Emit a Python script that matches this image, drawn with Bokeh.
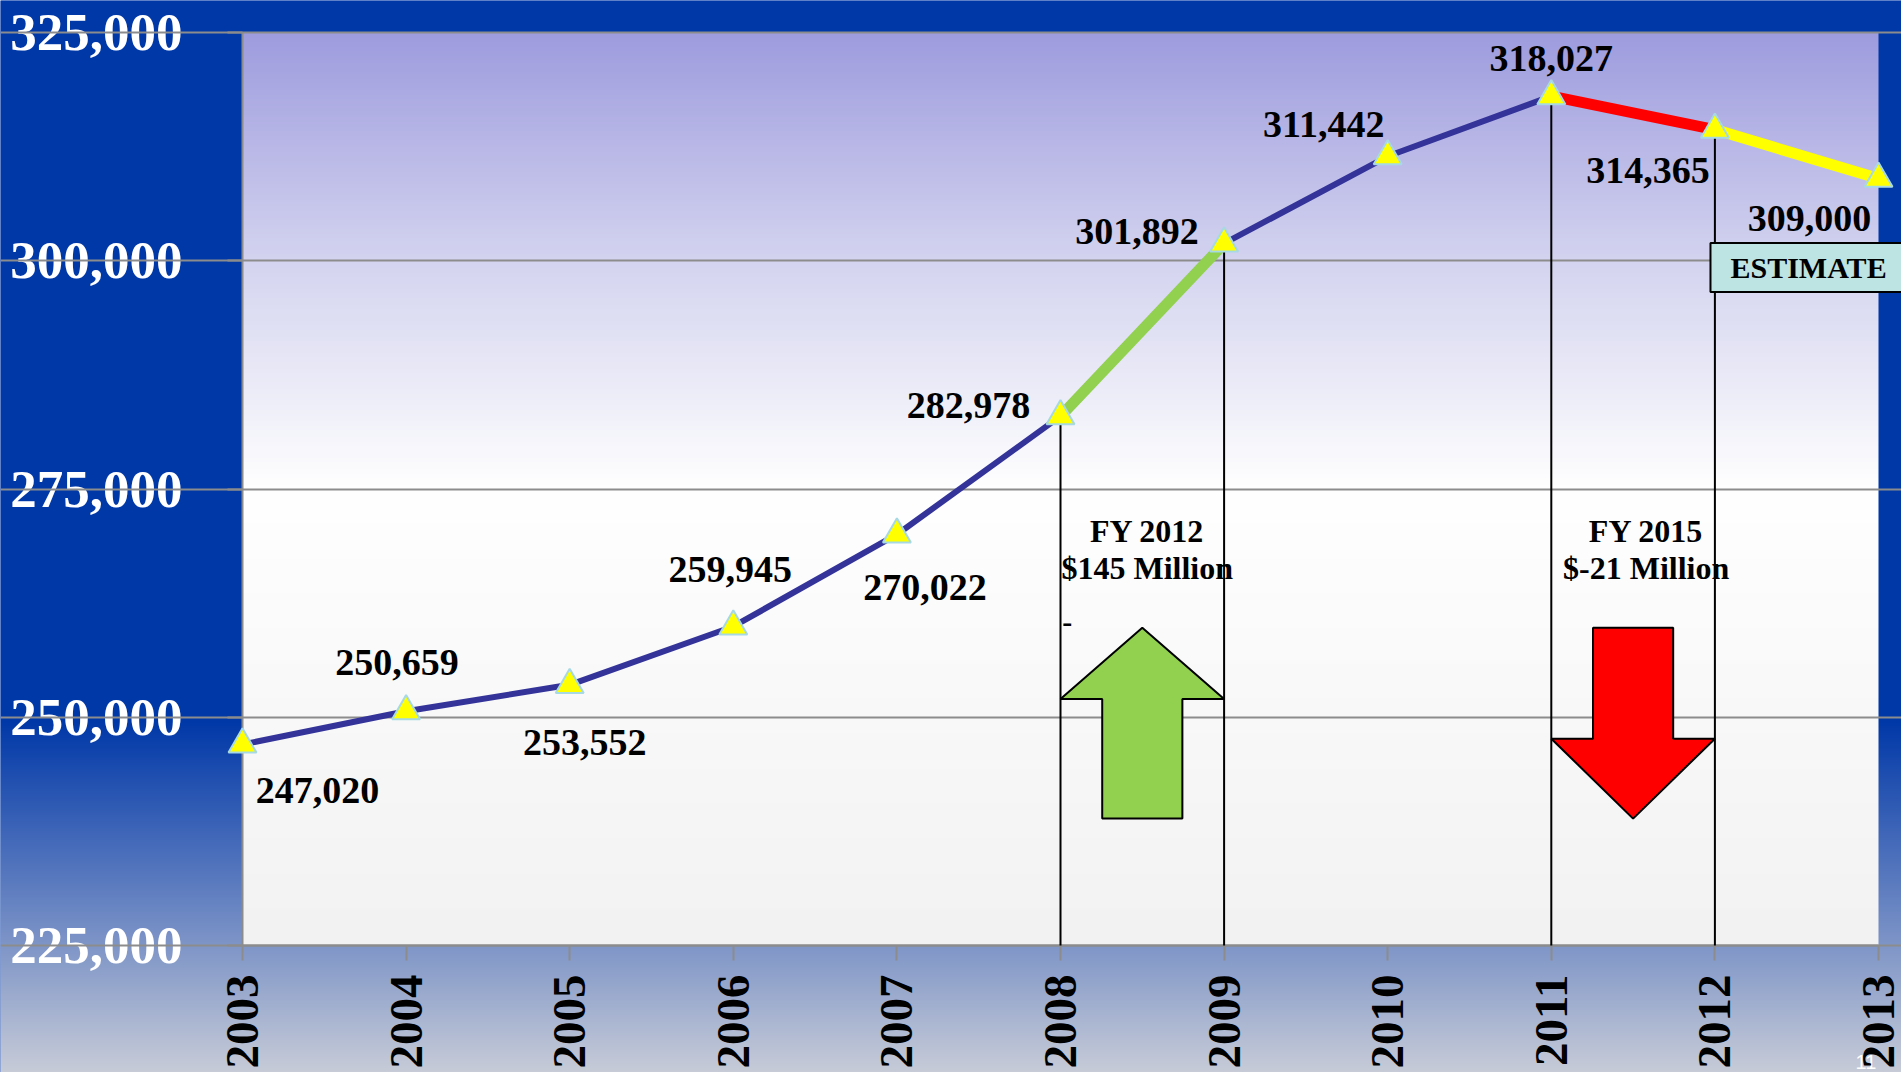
import numpy as np
from math import pi
from bokeh.plotting import figure
from bokeh.models import (ColumnDataSource, FixedTicker, NumeralTickFormatter,
                          Label, Range1d)
from bokeh.core.properties import value
from bokeh.embed import file_html
from bokeh.resources import INLINE

# ---------------- data ----------------
years = [2003, 2004, 2005, 2006, 2007, 2008, 2009, 2010, 2011, 2012, 2013]
enrollment = [247020, 250659, 253552, 259945, 270022, 282978,
              301892, 311442, 318027, 314365, 309000]
y_ticks = [225000, 250000, 275000, 300000, 325000]
x_ticks = years
navy_runs = [(2003, 2008), (2009, 2011)]
highlight_start = [2008, 2011, 2012]
highlight_colors = ["#92d050", "#ff0000", "#ffff00"]
budget_lines = [2008, 2009, 2011, 2012]
callout_titles = ["FY 2012", "FY 2015"]
callout_amounts = ["$145 Million", "$-21 Million"]
estimate_text = "ESTIMATE"
slide_number = "11"

# ---------------- styles / placements ----------------
label_dx = [75, -9, 15, -3, 28, -92, -87, -64, 0, -67, -69]
label_dy = [46, -49, 58, -57, 53, -11, -12, -32, -38, 41, 40]
SERIF = "Liberation Serif"
NAVY = "#333399"

W, H = 1901, 1072
Y0, Y1 = 225000, 325000
X0, X1 = 2003, 2013
PLOT_L, PLOT_R, PLOT_T, PLOT_B = 242, 1878, 32, 945
PX_X = (PLOT_R - PLOT_L) / (X1 - X0)
PX_Y = (PLOT_B - PLOT_T) / (Y1 - Y0)
xr0 = X0 - PLOT_L / PX_X
xr1 = xr0 + W / PX_X
yr1 = Y1 + PLOT_T / PX_Y
yr0 = yr1 - H / PX_Y

p = figure(width=W, height=H,
           x_range=Range1d(xr0, xr1), y_range=Range1d(yr0, yr1),
           output_backend="svg", toolbar_location=None,
           min_border=0, min_border_left=0, min_border_right=0,
           min_border_top=0, min_border_bottom=0)
p.border_fill_color = "#0038a8"
p.background_fill_color = "#0038a8"
p.outline_line_color = None

# page background: dark blue, fading to grey-blue near the bottom
def page_color(yp):
    stops_y = [720, 880, 1072]
    stops = np.array([[0, 56, 168], [90, 122, 191], [200, 204, 216]])
    return [np.interp(yp, stops_y, stops[:, k]) for k in range(3)]

bg = np.empty((H, 1), dtype=np.uint32)
bgv = bg.view(dtype=np.uint8).reshape((H, 1, 4))
rows_y = H - 0.5 - np.arange(H)
cols = page_color(rows_y)
for k in range(3):
    bgv[:, 0, k] = np.clip(cols[k], 0, 255).astype(np.uint8)
bgv[:, 0, 3] = 255
p.image_rgba(image=[bg], x=xr0, y=yr0, dw=xr1 - xr0, dh=yr1 - yr0, level="image")

# plot-area gradient (lavender top -> white middle -> light grey bottom)
n = 400
ys = np.linspace(Y0, Y1, n)
stop_v = [225000, 275000, 300000, 325000]
stop_c = np.array([[242, 242, 242], [255, 255, 255], [212, 212, 240], [158, 156, 222]])
img = np.empty((n, 1), dtype=np.uint32)
view = img.view(dtype=np.uint8).reshape((n, 1, 4))
for k in range(3):
    view[:, 0, k] = np.interp(ys, stop_v, stop_c[:, k]).astype(np.uint8)
view[:, 0, 3] = 255
p.image_rgba(image=[img], x=X0, y=Y0, dw=X1 - X0, dh=Y1 - Y0, level="image")

# slide number (partly hidden behind the last year label)
p.text(x=[X0 + (1855 - PLOT_L) / PX_X], y=[Y0 - (1068 - PLOT_B) / PX_Y], text=[slide_number],
       text_font=value("Liberation Sans"), text_font_size="20px", text_color="white",
       text_align="left", text_baseline="bottom", level="image")

# grid & axes
p.xgrid.visible = False
p.ygrid.ticker = FixedTicker(ticks=y_ticks)
p.ygrid.bounds = (X0, X1)
p.ygrid.grid_line_color = "#8c8c8c"
p.ygrid.grid_line_width = 2

p.yaxis.ticker = FixedTicker(ticks=y_ticks)
p.yaxis.formatter = NumeralTickFormatter(format="0,0")
p.xaxis.ticker = FixedTicker(ticks=x_ticks)
p.xaxis.fixed_location = Y0
p.yaxis.fixed_location = X0
p.xaxis.bounds = (X0, X1)
p.yaxis.bounds = (Y0, Y1)
for ax in (p.xaxis, p.yaxis):
    ax.level = "underlay"
    ax.major_label_text_font = SERIF
    ax.major_label_text_font_style = "bold"
    ax.major_tick_out = 15
    ax.major_tick_in = 0
    ax.minor_tick_out = 0
    ax.minor_tick_in = 0
    ax.major_tick_line_color = "#8c8c8c"
    ax.major_tick_line_width = 2
    ax.axis_line_color = "#8c8c8c"
    ax.axis_line_width = 2
p.yaxis.major_label_text_font_size = "53px"
p.yaxis.major_label_text_color = "white"
p.yaxis.major_label_standoff = 45
p.xaxis.major_label_text_font_size = "47px"
p.xaxis.major_label_text_color = "black"
p.xaxis.major_label_orientation = pi / 2
p.xaxis.major_label_standoff = 14

# vertical budget lines
bl_vals = [enrollment[years.index(yr)] for yr in budget_lines]
p.segment(x0=budget_lines, y0=bl_vals, x1=budget_lines, y1=[Y0] * len(budget_lines),
          line_color="black", line_width=2)

# arrows (annotation shapes)
def block_arrow(x_left, x_right, y_tail, y_base, y_tip, shaft_frac=0.49):
    xm = (x_left + x_right) / 2
    hw = (x_right - x_left) * shaft_frac / 2
    return ([x_left, xm, x_right, xm + hw, xm + hw, xm - hw, xm - hw],
            [y_base, y_tip, y_base, y_base, y_tail, y_tail, y_base])

ua_x, ua_y = block_arrow(2008, 2009, 238900, 252000, 259800)
da_x, da_y = block_arrow(2011, 2012, 259800, 247650, 238900)
p.patches(xs=[ua_x, da_x], ys=[ua_y, da_y], fill_color=["#92d050", "#ff0000"],
          line_color="black", line_width=2)

# navy line runs
for a, b in navy_runs:
    i, j = years.index(a), years.index(b)
    p.line(years[i:j + 1], enrollment[i:j + 1], line_color=NAVY, line_width=6)

# highlighted segments
hs_i = [years.index(yr) for yr in highlight_start]
p.segment(x0=[years[i] for i in hs_i], y0=[enrollment[i] for i in hs_i],
          x1=[years[i + 1] for i in hs_i], y1=[enrollment[i + 1] for i in hs_i],
          line_color=highlight_colors, line_width=11)

# markers
p.scatter(years, enrollment, marker="triangle", size=28, fill_color="#ffff00",
          line_color="#a6d9e3", line_width=2)

# data labels
src = ColumnDataSource(dict(x=years, y=enrollment,
                            t=[f"{v:,}" for v in enrollment],
                            dx=label_dx, dy=label_dy))
p.text(x="x", y="y", text="t", x_offset="dx", y_offset="dy", source=src,
       text_font=value(SERIF), text_font_style="bold", text_font_size="38px",
       text_color="black", text_align="center", text_baseline="middle")

# callouts
cx = [2008.53, 2011.58]
p.text(x=cx, y=[270450, 270450], text=callout_titles,
       text_font=value(SERIF), text_font_style="bold", text_font_size="32px",
       text_align="center", text_baseline="middle", text_color="black")
p.text(x=cx, y=[266400, 266400], text=callout_amounts,
       text_font=value(SERIF), text_font_style="bold", text_font_size="32px",
       text_align="center", text_baseline="middle", text_color="black")
p.text(x=[2008.01], y=[260380], text=["-"],
       text_font=value(SERIF), text_font_style="bold", text_font_size="30px",
       text_align="left", text_baseline="middle", text_color="black")

# ESTIMATE box
p.add_layout(Label(x=2011.973, y=299260, text=estimate_text,
                   text_font=SERIF, text_font_style="bold", text_font_size="30px",
                   text_color="black", text_align="left", text_baseline="middle",
                   background_fill_color="#bde3e3", background_fill_alpha=1.0,
                   border_line_color="black", border_line_width=2,
                   padding=dict(left=20, right=40, top=8, bottom=8)))

open("out.html", "w").write(file_html(p, INLINE))
